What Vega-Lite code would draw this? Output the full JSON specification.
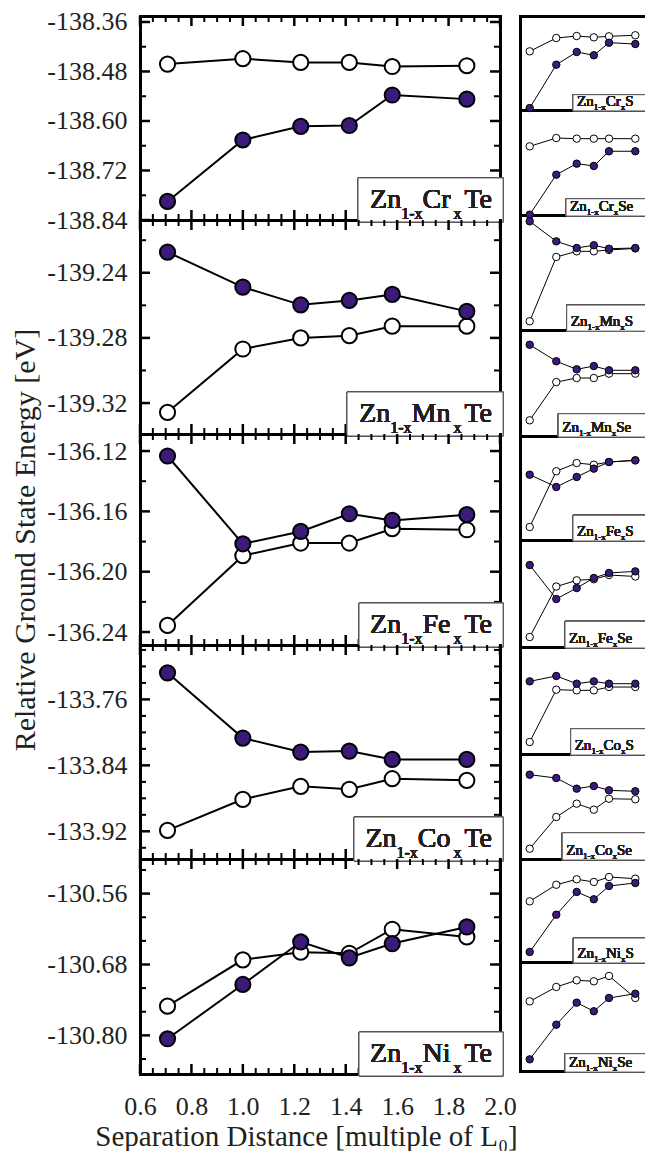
{
"$schema": "https://vega.github.io/schema/vega-lite/v6.json",
"background": "white",
"padding": {"left": 10, "top": 8, "right": 0, "bottom": 0},
"spacing": 2,
"bounds": "full",
"config": {
  "font": "Liberation Serif",
  "locale": {"number": {"decimal": ".", "thousands": ",", "grouping": [3], "currency": ["$", ""], "minus": "-"}},
  "view": {"stroke": null},
  "text": {"font": "Liberation Serif", "fontWeight": 400},
  "axis": {"grid": false, "domainColor": "black", "domainWidth": 3, "domainCap": "square", "labelFont": "Liberation Serif", "labelFontWeight": 400, "labelFontSize": 26, "labelColor": "#231f20", "labelOverlap": false, "labelFlush": false, "titleFont": "Liberation Serif", "titleFontWeight": 400, "titleColor": "#231f20", "titleFontSize": 29}
},
"datasets": {
  "xMaj": [{"t":0.6},{"t":0.8},{"t":1.0},{"t":1.2},{"t":1.4},{"t":1.6},{"t":1.8},{"t":2.0}],
  "xMin": [{"t":0.65},{"t":0.7},{"t":0.75},{"t":0.85},{"t":0.9},{"t":0.95},{"t":1.05},{"t":1.1},{"t":1.15},{"t":1.25},{"t":1.3},{"t":1.35},{"t":1.45},{"t":1.5},{"t":1.55},{"t":1.65},{"t":1.7},{"t":1.75},{"t":1.85},{"t":1.9},{"t":1.95}],
  "yMajCr": [{"t":-138.36},{"t":-138.48},{"t":-138.6},{"t":-138.72},{"t":-138.84}],
  "yMinCr": [{"t":-138.42},{"t":-138.54},{"t":-138.66},{"t":-138.78}],
  "yMajMn": [{"t":-139.24},{"t":-139.28},{"t":-139.32}],
  "yMinMn": [{"t":-139.22},{"t":-139.26},{"t":-139.3}],
  "yMajFe": [{"t":-136.12},{"t":-136.16},{"t":-136.2},{"t":-136.24}],
  "yMinFe": [{"t":-136.14},{"t":-136.18},{"t":-136.22}],
  "yMajCo": [{"t":-133.76},{"t":-133.84},{"t":-133.92}],
  "yMinCo": [{"t":-133.7},{"t":-133.72},{"t":-133.74},{"t":-133.78},{"t":-133.8},{"t":-133.82},{"t":-133.86},{"t":-133.88},{"t":-133.9},{"t":-133.94}],
  "yMajNi": [{"t":-130.56},{"t":-130.68},{"t":-130.8}],
  "yMinNi": [{"t":-130.52},{"t":-130.6},{"t":-130.64},{"t":-130.72},{"t":-130.76},{"t":-130.84}],
  "CrTe": [
    {"d":0.707,"E":-138.462,"state":"AFM"},{"d":1.0,"E":-138.449,"state":"AFM"},{"d":1.225,"E":-138.458,"state":"AFM"},{"d":1.414,"E":-138.458,"state":"AFM"},{"d":1.581,"E":-138.468,"state":"AFM"},{"d":1.871,"E":-138.466,"state":"AFM"},
    {"d":0.707,"E":-138.795,"state":"FM"},{"d":1.0,"E":-138.646,"state":"FM"},{"d":1.225,"E":-138.613,"state":"FM"},{"d":1.414,"E":-138.611,"state":"FM"},{"d":1.581,"E":-138.537,"state":"FM"},{"d":1.871,"E":-138.547,"state":"FM"}],
  "MnTe": [
    {"d":0.707,"E":-139.3257,"state":"AFM"},{"d":1.0,"E":-139.2868,"state":"AFM"},{"d":1.225,"E":-139.28,"state":"AFM"},{"d":1.414,"E":-139.2786,"state":"AFM"},{"d":1.581,"E":-139.2728,"state":"AFM"},{"d":1.871,"E":-139.2728,"state":"AFM"},
    {"d":0.707,"E":-139.2273,"state":"FM"},{"d":1.0,"E":-139.2488,"state":"FM"},{"d":1.225,"E":-139.2597,"state":"FM"},{"d":1.414,"E":-139.257,"state":"FM"},{"d":1.581,"E":-139.2533,"state":"FM"},{"d":1.871,"E":-139.2637,"state":"FM"}],
  "FeTe": [
    {"d":0.707,"E":-136.2356,"state":"AFM"},{"d":1.0,"E":-136.1894,"state":"AFM"},{"d":1.225,"E":-136.181,"state":"AFM"},{"d":1.414,"E":-136.181,"state":"AFM"},{"d":1.581,"E":-136.1715,"state":"AFM"},{"d":1.871,"E":-136.1722,"state":"AFM"},
    {"d":0.707,"E":-136.1233,"state":"FM"},{"d":1.0,"E":-136.1815,"state":"FM"},{"d":1.225,"E":-136.1733,"state":"FM"},{"d":1.414,"E":-136.1616,"state":"FM"},{"d":1.581,"E":-136.166,"state":"FM"},{"d":1.871,"E":-136.1622,"state":"FM"}],
  "CoTe": [
    {"d":0.707,"E":-133.9188,"state":"AFM"},{"d":1.0,"E":-133.8812,"state":"AFM"},{"d":1.225,"E":-133.8655,"state":"AFM"},{"d":1.414,"E":-133.8691,"state":"AFM"},{"d":1.581,"E":-133.8562,"state":"AFM"},{"d":1.871,"E":-133.8582,"state":"AFM"},
    {"d":0.707,"E":-133.7278,"state":"FM"},{"d":1.0,"E":-133.8069,"state":"FM"},{"d":1.225,"E":-133.8239,"state":"FM"},{"d":1.414,"E":-133.8227,"state":"FM"},{"d":1.581,"E":-133.8328,"state":"FM"},{"d":1.871,"E":-133.8328,"state":"FM"}],
  "NiTe": [
    {"d":0.707,"E":-130.7505,"state":"AFM"},{"d":1.0,"E":-130.6721,"state":"AFM"},{"d":1.225,"E":-130.6592,"state":"AFM"},{"d":1.414,"E":-130.661,"state":"AFM"},{"d":1.581,"E":-130.6203,"state":"AFM"},{"d":1.871,"E":-130.6333,"state":"AFM"},
    {"d":0.707,"E":-130.8057,"state":"FM"},{"d":1.0,"E":-130.7138,"state":"FM"},{"d":1.225,"E":-130.6416,"state":"FM"},{"d":1.414,"E":-130.6687,"state":"FM"},{"d":1.581,"E":-130.6446,"state":"FM"},{"d":1.871,"E":-130.6164,"state":"FM"}],
  "CrS": [
    {"d":0.707,"E":62.4,"state":"AFM"},{"d":1.0,"E":76.6,"state":"AFM"},{"d":1.225,"E":78.7,"state":"AFM"},{"d":1.414,"E":77.3,"state":"AFM"},{"d":1.581,"E":78.4,"state":"AFM"},{"d":1.871,"E":79.5,"state":"AFM"},
    {"d":0.707,"E":2.1,"state":"FM"},{"d":1.0,"E":48.2,"state":"FM"},{"d":1.225,"E":61.7,"state":"FM"},{"d":1.414,"E":58.2,"state":"FM"},{"d":1.581,"E":71.6,"state":"FM"},{"d":1.871,"E":70.2,"state":"FM"}],
  "CrSe": [
    {"d":0.707,"E":65.4,"state":"AFM"},{"d":1.0,"E":73.3,"state":"AFM"},{"d":1.225,"E":72.7,"state":"AFM"},{"d":1.414,"E":72.7,"state":"AFM"},{"d":1.581,"E":72.7,"state":"AFM"},{"d":1.871,"E":72.7,"state":"AFM"},
    {"d":0.707,"E":0.3,"state":"FM"},{"d":1.0,"E":38.4,"state":"FM"},{"d":1.225,"E":48.9,"state":"FM"},{"d":1.414,"E":46.7,"state":"FM"},{"d":1.581,"E":60.7,"state":"FM"},{"d":1.871,"E":60.7,"state":"FM"}],
  "MnS": [
    {"d":0.707,"E":7.6,"state":"AFM"},{"d":1.0,"E":63.5,"state":"AFM"},{"d":1.225,"E":68.4,"state":"AFM"},{"d":1.414,"E":68.4,"state":"AFM"},{"d":1.581,"E":69.6,"state":"AFM"},{"d":1.871,"E":70.9,"state":"AFM"},
    {"d":0.707,"E":94.5,"state":"FM"},{"d":1.0,"E":77.1,"state":"FM"},{"d":1.225,"E":71.3,"state":"FM"},{"d":1.414,"E":73.7,"state":"FM"},{"d":1.581,"E":70.7,"state":"FM"},{"d":1.871,"E":71.3,"state":"FM"}],
  "MnSe": [
    {"d":0.707,"E":14.8,"state":"AFM"},{"d":1.0,"E":50.9,"state":"AFM"},{"d":1.225,"E":54.7,"state":"AFM"},{"d":1.414,"E":54.7,"state":"AFM"},{"d":1.581,"E":58.8,"state":"AFM"},{"d":1.871,"E":58.8,"state":"AFM"},
    {"d":0.707,"E":86.1,"state":"FM"},{"d":1.0,"E":70.5,"state":"FM"},{"d":1.225,"E":62.9,"state":"FM"},{"d":1.414,"E":66.0,"state":"FM"},{"d":1.581,"E":62.0,"state":"FM"},{"d":1.871,"E":62.0,"state":"FM"}],
  "FeS": [
    {"d":0.707,"E":12.5,"state":"AFM"},{"d":1.0,"E":66.1,"state":"AFM"},{"d":1.225,"E":74.0,"state":"AFM"},{"d":1.414,"E":72.4,"state":"AFM"},{"d":1.581,"E":75.0,"state":"AFM"},{"d":1.871,"E":76.6,"state":"AFM"},
    {"d":0.707,"E":62.8,"state":"FM"},{"d":1.0,"E":51.0,"state":"FM"},{"d":1.225,"E":60.6,"state":"FM"},{"d":1.414,"E":68.6,"state":"FM"},{"d":1.581,"E":75.0,"state":"FM"},{"d":1.871,"E":76.6,"state":"FM"}],
  "FeSe": [
    {"d":0.707,"E":9.3,"state":"AFM"},{"d":1.0,"E":56.5,"state":"AFM"},{"d":1.225,"E":62.3,"state":"AFM"},{"d":1.414,"E":63.3,"state":"AFM"},{"d":1.581,"E":67.3,"state":"AFM"},{"d":1.871,"E":65.9,"state":"AFM"},
    {"d":0.707,"E":76.6,"state":"FM"},{"d":1.0,"E":44.9,"state":"FM"},{"d":1.225,"E":55.1,"state":"FM"},{"d":1.414,"E":64.5,"state":"FM"},{"d":1.581,"E":69.2,"state":"FM"},{"d":1.871,"E":70.7,"state":"FM"}],
  "CoS": [
    {"d":0.707,"E":11.2,"state":"AFM"},{"d":1.0,"E":60.1,"state":"AFM"},{"d":1.225,"E":59.5,"state":"AFM"},{"d":1.414,"E":59.5,"state":"AFM"},{"d":1.581,"E":62.6,"state":"AFM"},{"d":1.871,"E":62.6,"state":"AFM"},
    {"d":0.707,"E":67.9,"state":"FM"},{"d":1.0,"E":72.9,"state":"FM"},{"d":1.225,"E":65.7,"state":"FM"},{"d":1.414,"E":67.9,"state":"FM"},{"d":1.581,"E":65.7,"state":"FM"},{"d":1.871,"E":65.7,"state":"FM"}],
  "CoSe": [
    {"d":0.707,"E":9.8,"state":"AFM"},{"d":1.0,"E":40.0,"state":"AFM"},{"d":1.225,"E":52.7,"state":"AFM"},{"d":1.414,"E":47.0,"state":"AFM"},{"d":1.581,"E":57.4,"state":"AFM"},{"d":1.871,"E":56.9,"state":"AFM"},
    {"d":0.707,"E":80.3,"state":"FM"},{"d":1.0,"E":77.1,"state":"FM"},{"d":1.225,"E":67.0,"state":"FM"},{"d":1.414,"E":69.5,"state":"FM"},{"d":1.581,"E":65.4,"state":"FM"},{"d":1.871,"E":64.5,"state":"FM"}],
  "NiS": [
    {"d":0.707,"E":58.9,"state":"AFM"},{"d":1.0,"E":75.0,"state":"AFM"},{"d":1.225,"E":80.3,"state":"AFM"},{"d":1.414,"E":77.7,"state":"AFM"},{"d":1.581,"E":82.5,"state":"AFM"},{"d":1.871,"E":80.9,"state":"AFM"},
    {"d":0.707,"E":9.7,"state":"FM"},{"d":1.0,"E":45.9,"state":"FM"},{"d":1.225,"E":68.0,"state":"FM"},{"d":1.414,"E":60.9,"state":"FM"},{"d":1.581,"E":73.8,"state":"FM"},{"d":1.871,"E":76.7,"state":"FM"}],
  "NiSe": [
    {"d":0.707,"E":63.9,"state":"AFM"},{"d":1.0,"E":77.1,"state":"AFM"},{"d":1.225,"E":83.2,"state":"AFM"},{"d":1.414,"E":82.3,"state":"AFM"},{"d":1.581,"E":87.2,"state":"AFM"},{"d":1.871,"E":67.0,"state":"AFM"},
    {"d":0.707,"E":10.7,"state":"FM"},{"d":1.0,"E":42.5,"state":"FM"},{"d":1.225,"E":62.7,"state":"FM"},{"d":1.414,"E":54.8,"state":"FM"},{"d":1.581,"E":67.0,"state":"FM"},{"d":1.871,"E":70.9,"state":"FM"}]
},
"hconcat": [
{"vconcat": [
{"width":360,"height":204,"data":{"name":"CrTe"},
 "layer":[
  {"mark":{"type":"line","color":"black","strokeWidth":2},
   "encoding":{
    "x":{"field":"d","type":"quantitative","scale":{"domain":[0.6,2.0],"nice":false,"zero":false},"axis":{"orient":"bottom","ticks":false,"labels":false,"domain":true,"title":null}},
    "y":{"field":"E","type":"quantitative","scale":{"domain":[-138.84,-138.3455],"nice":false,"zero":false},"axis":{"orient":"left","values":[-138.36,-138.48,-138.6,-138.72,-138.84],"format":".2f","ticks":false,"labelPadding":13,"domain":true,"title":null}},
    "detail":{"field":"state","type":"nominal"}}},
  {"mark":{"type":"point","shape":"circle","filled":true,"size":230,"stroke":"black","strokeWidth":2,"opacity":1},
   "encoding":{
    "x":{"field":"d","type":"quantitative","axis":null},
    "y":{"field":"E","type":"quantitative","axis":null},
    "fill":{"field":"state","type":"nominal","scale":{"domain":["FM","AFM"],"range":["#3c1a7a","#ffffff"]},"legend":null}}},
  {"mark":{"type":"point","opacity":0},
   "encoding":{
    "x":{"field":"d","type":"quantitative","axis":{"orient":"top","ticks":false,"labels":false,"domain":true,"title":null}},
    "y":{"field":"E","type":"quantitative","axis":{"orient":"right","ticks":false,"labels":false,"domain":true,"title":null}}}},
  {"data":{"name":"xMaj"},"mark":{"type":"point","shape":"M0,0L0,-2","size":100,"filled":false,"stroke":"black","strokeWidth":2.5,"opacity":1},"encoding":{"x":{"field":"t","type":"quantitative","axis":null},"y":{"datum":-138.84,"type":"quantitative","axis":null}}},
  {"data":{"name":"xMin"},"mark":{"type":"point","shape":"M0,0L0,-2","size":36,"filled":false,"stroke":"black","strokeWidth":2,"opacity":1},"encoding":{"x":{"field":"t","type":"quantitative","axis":null},"y":{"datum":-138.84,"type":"quantitative","axis":null}}},
  {"data":{"name":"xMaj"},"mark":{"type":"point","shape":"M0,0L0,2","size":100,"filled":false,"stroke":"black","strokeWidth":2.5,"opacity":1},"encoding":{"x":{"field":"t","type":"quantitative","axis":null},"y":{"datum":-138.3455,"type":"quantitative","axis":null}}},
  {"data":{"name":"xMin"},"mark":{"type":"point","shape":"M0,0L0,2","size":36,"filled":false,"stroke":"black","strokeWidth":2,"opacity":1},"encoding":{"x":{"field":"t","type":"quantitative","axis":null},"y":{"datum":-138.3455,"type":"quantitative","axis":null}}},
  {"data":{"name":"yMajCr"},"mark":{"type":"point","shape":"M0,0L2,0","size":100,"filled":false,"stroke":"black","strokeWidth":2.5,"opacity":1},"encoding":{"y":{"field":"t","type":"quantitative","axis":null},"x":{"datum":0.6,"type":"quantitative","axis":null}}},
  {"data":{"name":"yMinCr"},"mark":{"type":"point","shape":"M0,0L2,0","size":36,"filled":false,"stroke":"black","strokeWidth":2,"opacity":1},"encoding":{"y":{"field":"t","type":"quantitative","axis":null},"x":{"datum":0.6,"type":"quantitative","axis":null}}},
  {"data":{"name":"yMajCr"},"mark":{"type":"point","shape":"M0,0L-2,0","size":100,"filled":false,"stroke":"black","strokeWidth":2.5,"opacity":1},"encoding":{"y":{"field":"t","type":"quantitative","axis":null},"x":{"datum":2.0,"type":"quantitative","axis":null}}},
  {"data":{"name":"yMinCr"},"mark":{"type":"point","shape":"M0,0L-2,0","size":36,"filled":false,"stroke":"black","strokeWidth":2,"opacity":1},"encoding":{"y":{"field":"t","type":"quantitative","axis":null},"x":{"datum":2.0,"type":"quantitative","axis":null}}},
  {"mark":{"type":"rect","fill":"white","stroke":"#555555","strokeWidth":1},
   "encoding":{"x":{"datum":1.4478,"type":"quantitative","axis":null},"x2":{"datum":2.012},"y":{"datum":-138.738,"type":"quantitative","axis":null},"y2":{"datum":-138.8448}}},
  {"mark":{"type":"text","text":"Zn","font":"Liberation Serif","align":"right","baseline":"alphabetic","dx":-98.8,"dy":-12,"fontSize":28,"color":"#231f20"},"encoding":{"x":{"datum":2.0,"type":"quantitative","axis":null},"y":{"datum":-138.84,"type":"quantitative","axis":null}}},
  {"mark":{"type":"text","text":"1-x","font":"Liberation Serif","align":"right","baseline":"alphabetic","dx":-77.5,"dy":-1,"fontSize":16,"color":"#231f20"},"encoding":{"x":{"datum":2.0,"type":"quantitative","axis":null},"y":{"datum":-138.84,"type":"quantitative","axis":null}}},
  {"mark":{"type":"text","text":"Cr","font":"Liberation Serif","align":"right","baseline":"alphabetic","dx":-49.5,"dy":-12,"fontSize":28,"color":"#231f20"},"encoding":{"x":{"datum":2.0,"type":"quantitative","axis":null},"y":{"datum":-138.84,"type":"quantitative","axis":null}}},
  {"mark":{"type":"text","text":"x","font":"Liberation Serif","align":"right","baseline":"alphabetic","dx":-38.5,"dy":-1,"fontSize":16,"color":"#231f20"},"encoding":{"x":{"datum":2.0,"type":"quantitative","axis":null},"y":{"datum":-138.84,"type":"quantitative","axis":null}}},
  {"mark":{"type":"text","text":"Te","font":"Liberation Serif","align":"right","baseline":"alphabetic","dx":-8,"dy":-12,"fontSize":28,"color":"#231f20"},"encoding":{"x":{"datum":2.0,"type":"quantitative","axis":null},"y":{"datum":-138.84,"type":"quantitative","axis":null}}}
 ],
 "resolve":{"axis":{"x":"independent","y":"independent"}}},
{"width":360,"height":214,"data":{"name":"MnTe"},
 "layer":[
  {"mark":{"type":"line","color":"black","strokeWidth":2},
   "encoding":{
    "x":{"field":"d","type":"quantitative","scale":{"domain":[0.6,2.0],"nice":false,"zero":false},"axis":{"orient":"bottom","ticks":false,"labels":false,"domain":true,"title":null}},
    "y":{"field":"E","type":"quantitative","scale":{"domain":[-139.339,-139.2076],"nice":false,"zero":false},"axis":{"orient":"left","values":[-139.24,-139.28,-139.32],"format":".2f","ticks":false,"labelPadding":13,"domain":true,"title":null}},
    "detail":{"field":"state","type":"nominal"}}},
  {"mark":{"type":"point","shape":"circle","filled":true,"size":230,"stroke":"black","strokeWidth":2,"opacity":1},
   "encoding":{
    "x":{"field":"d","type":"quantitative","axis":null},
    "y":{"field":"E","type":"quantitative","axis":null},
    "fill":{"field":"state","type":"nominal","scale":{"domain":["FM","AFM"],"range":["#3c1a7a","#ffffff"]},"legend":null}}},
  {"mark":{"type":"point","opacity":0},
   "encoding":{
    "x":{"field":"d","type":"quantitative","axis":null},
    "y":{"field":"E","type":"quantitative","axis":{"orient":"right","ticks":false,"labels":false,"domain":true,"title":null}}}},
  {"data":{"name":"xMaj"},"mark":{"type":"point","shape":"M0,0L0,-2","size":100,"filled":false,"stroke":"black","strokeWidth":2.5,"opacity":1},"encoding":{"x":{"field":"t","type":"quantitative","axis":null},"y":{"datum":-139.339,"type":"quantitative","axis":null}}},
  {"data":{"name":"xMin"},"mark":{"type":"point","shape":"M0,0L0,-2","size":36,"filled":false,"stroke":"black","strokeWidth":2,"opacity":1},"encoding":{"x":{"field":"t","type":"quantitative","axis":null},"y":{"datum":-139.339,"type":"quantitative","axis":null}}},
  {"data":{"name":"xMaj"},"mark":{"type":"point","shape":"M0,0L0,2","size":100,"filled":false,"stroke":"black","strokeWidth":2.5,"opacity":1},"encoding":{"x":{"field":"t","type":"quantitative","axis":null},"y":{"datum":-139.2076,"type":"quantitative","axis":null}}},
  {"data":{"name":"xMin"},"mark":{"type":"point","shape":"M0,0L0,2","size":36,"filled":false,"stroke":"black","strokeWidth":2,"opacity":1},"encoding":{"x":{"field":"t","type":"quantitative","axis":null},"y":{"datum":-139.2076,"type":"quantitative","axis":null}}},
  {"data":{"name":"yMajMn"},"mark":{"type":"point","shape":"M0,0L2,0","size":100,"filled":false,"stroke":"black","strokeWidth":2.5,"opacity":1},"encoding":{"y":{"field":"t","type":"quantitative","axis":null},"x":{"datum":0.6,"type":"quantitative","axis":null}}},
  {"data":{"name":"yMinMn"},"mark":{"type":"point","shape":"M0,0L2,0","size":36,"filled":false,"stroke":"black","strokeWidth":2,"opacity":1},"encoding":{"y":{"field":"t","type":"quantitative","axis":null},"x":{"datum":0.6,"type":"quantitative","axis":null}}},
  {"data":{"name":"yMajMn"},"mark":{"type":"point","shape":"M0,0L-2,0","size":100,"filled":false,"stroke":"black","strokeWidth":2.5,"opacity":1},"encoding":{"y":{"field":"t","type":"quantitative","axis":null},"x":{"datum":2.0,"type":"quantitative","axis":null}}},
  {"data":{"name":"yMinMn"},"mark":{"type":"point","shape":"M0,0L-2,0","size":36,"filled":false,"stroke":"black","strokeWidth":2,"opacity":1},"encoding":{"y":{"field":"t","type":"quantitative","axis":null},"x":{"datum":2.0,"type":"quantitative","axis":null}}},
  {"mark":{"type":"rect","fill":"white","stroke":"#555555","strokeWidth":1},
   "encoding":{"x":{"datum":1.405,"type":"quantitative","axis":null},"x2":{"datum":2.012},"y":{"datum":-139.3132,"type":"quantitative","axis":null},"y2":{"datum":-139.3402}}},
  {"mark":{"type":"text","text":"Zn","font":"Liberation Serif","align":"right","baseline":"alphabetic","dx":-109.7,"dy":-12,"fontSize":28,"color":"#231f20"},"encoding":{"x":{"datum":2.0,"type":"quantitative","axis":null},"y":{"datum":-139.339,"type":"quantitative","axis":null}}},
  {"mark":{"type":"text","text":"1-x","font":"Liberation Serif","align":"right","baseline":"alphabetic","dx":-88.4,"dy":-1,"fontSize":16,"color":"#231f20"},"encoding":{"x":{"datum":2.0,"type":"quantitative","axis":null},"y":{"datum":-139.339,"type":"quantitative","axis":null}}},
  {"mark":{"type":"text","text":"Mn","font":"Liberation Serif","align":"right","baseline":"alphabetic","dx":-49.5,"dy":-12,"fontSize":28,"color":"#231f20"},"encoding":{"x":{"datum":2.0,"type":"quantitative","axis":null},"y":{"datum":-139.339,"type":"quantitative","axis":null}}},
  {"mark":{"type":"text","text":"x","font":"Liberation Serif","align":"right","baseline":"alphabetic","dx":-38.5,"dy":-1,"fontSize":16,"color":"#231f20"},"encoding":{"x":{"datum":2.0,"type":"quantitative","axis":null},"y":{"datum":-139.339,"type":"quantitative","axis":null}}},
  {"mark":{"type":"text","text":"Te","font":"Liberation Serif","align":"right","baseline":"alphabetic","dx":-8,"dy":-12,"fontSize":28,"color":"#231f20"},"encoding":{"x":{"datum":2.0,"type":"quantitative","axis":null},"y":{"datum":-139.339,"type":"quantitative","axis":null}}}
 ],
 "resolve":{"axis":{"x":"independent","y":"independent"}}},
{"width":360,"height":211,"data":{"name":"FeTe"},
 "layer":[
  {"mark":{"type":"line","color":"black","strokeWidth":2},
   "encoding":{
    "x":{"field":"d","type":"quantitative","scale":{"domain":[0.6,2.0],"nice":false,"zero":false},"axis":{"orient":"bottom","ticks":false,"labels":false,"domain":true,"title":null}},
    "y":{"field":"E","type":"quantitative","scale":{"domain":[-136.2486,-136.1087],"nice":false,"zero":false},"axis":{"orient":"left","values":[-136.12,-136.16,-136.2,-136.24],"format":".2f","ticks":false,"labelPadding":13,"domain":true,"title":"Relative Ground State Energy [eV]","titleFontSize":30,"titlePadding":6.5}},
    "detail":{"field":"state","type":"nominal"}}},
  {"mark":{"type":"point","shape":"circle","filled":true,"size":230,"stroke":"black","strokeWidth":2,"opacity":1},
   "encoding":{
    "x":{"field":"d","type":"quantitative","axis":null},
    "y":{"field":"E","type":"quantitative","axis":null},
    "fill":{"field":"state","type":"nominal","scale":{"domain":["FM","AFM"],"range":["#3c1a7a","#ffffff"]},"legend":null}}},
  {"mark":{"type":"point","opacity":0},
   "encoding":{
    "x":{"field":"d","type":"quantitative","axis":null},
    "y":{"field":"E","type":"quantitative","axis":{"orient":"right","ticks":false,"labels":false,"domain":true,"title":null}}}},
  {"data":{"name":"xMaj"},"mark":{"type":"point","shape":"M0,0L0,-2","size":100,"filled":false,"stroke":"black","strokeWidth":2.5,"opacity":1},"encoding":{"x":{"field":"t","type":"quantitative","axis":null},"y":{"datum":-136.2486,"type":"quantitative","axis":null}}},
  {"data":{"name":"xMin"},"mark":{"type":"point","shape":"M0,0L0,-2","size":36,"filled":false,"stroke":"black","strokeWidth":2,"opacity":1},"encoding":{"x":{"field":"t","type":"quantitative","axis":null},"y":{"datum":-136.2486,"type":"quantitative","axis":null}}},
  {"data":{"name":"xMaj"},"mark":{"type":"point","shape":"M0,0L0,2","size":100,"filled":false,"stroke":"black","strokeWidth":2.5,"opacity":1},"encoding":{"x":{"field":"t","type":"quantitative","axis":null},"y":{"datum":-136.1087,"type":"quantitative","axis":null}}},
  {"data":{"name":"xMin"},"mark":{"type":"point","shape":"M0,0L0,2","size":36,"filled":false,"stroke":"black","strokeWidth":2,"opacity":1},"encoding":{"x":{"field":"t","type":"quantitative","axis":null},"y":{"datum":-136.1087,"type":"quantitative","axis":null}}},
  {"data":{"name":"yMajFe"},"mark":{"type":"point","shape":"M0,0L2,0","size":100,"filled":false,"stroke":"black","strokeWidth":2.5,"opacity":1},"encoding":{"y":{"field":"t","type":"quantitative","axis":null},"x":{"datum":0.6,"type":"quantitative","axis":null}}},
  {"data":{"name":"yMinFe"},"mark":{"type":"point","shape":"M0,0L2,0","size":36,"filled":false,"stroke":"black","strokeWidth":2,"opacity":1},"encoding":{"y":{"field":"t","type":"quantitative","axis":null},"x":{"datum":0.6,"type":"quantitative","axis":null}}},
  {"data":{"name":"yMajFe"},"mark":{"type":"point","shape":"M0,0L-2,0","size":100,"filled":false,"stroke":"black","strokeWidth":2.5,"opacity":1},"encoding":{"y":{"field":"t","type":"quantitative","axis":null},"x":{"datum":2.0,"type":"quantitative","axis":null}}},
  {"data":{"name":"yMinFe"},"mark":{"type":"point","shape":"M0,0L-2,0","size":36,"filled":false,"stroke":"black","strokeWidth":2,"opacity":1},"encoding":{"y":{"field":"t","type":"quantitative","axis":null},"x":{"datum":2.0,"type":"quantitative","axis":null}}},
  {"mark":{"type":"rect","fill":"white","stroke":"#555555","strokeWidth":1},
   "encoding":{"x":{"datum":1.4517,"type":"quantitative","axis":null},"x2":{"datum":2.012},"y":{"datum":-136.2208,"type":"quantitative","axis":null},"y2":{"datum":-136.2499}}},
  {"mark":{"type":"text","text":"Zn","font":"Liberation Serif","align":"right","baseline":"alphabetic","dx":-98.8,"dy":-12,"fontSize":28,"color":"#231f20"},"encoding":{"x":{"datum":2.0,"type":"quantitative","axis":null},"y":{"datum":-136.2486,"type":"quantitative","axis":null}}},
  {"mark":{"type":"text","text":"1-x","font":"Liberation Serif","align":"right","baseline":"alphabetic","dx":-77.5,"dy":-1,"fontSize":16,"color":"#231f20"},"encoding":{"x":{"datum":2.0,"type":"quantitative","axis":null},"y":{"datum":-136.2486,"type":"quantitative","axis":null}}},
  {"mark":{"type":"text","text":"Fe","font":"Liberation Serif","align":"right","baseline":"alphabetic","dx":-49.5,"dy":-12,"fontSize":28,"color":"#231f20"},"encoding":{"x":{"datum":2.0,"type":"quantitative","axis":null},"y":{"datum":-136.2486,"type":"quantitative","axis":null}}},
  {"mark":{"type":"text","text":"x","font":"Liberation Serif","align":"right","baseline":"alphabetic","dx":-38.5,"dy":-1,"fontSize":16,"color":"#231f20"},"encoding":{"x":{"datum":2.0,"type":"quantitative","axis":null},"y":{"datum":-136.2486,"type":"quantitative","axis":null}}},
  {"mark":{"type":"text","text":"Te","font":"Liberation Serif","align":"right","baseline":"alphabetic","dx":-8,"dy":-12,"fontSize":28,"color":"#231f20"},"encoding":{"x":{"datum":2.0,"type":"quantitative","axis":null},"y":{"datum":-136.2486,"type":"quantitative","axis":null}}}
 ],
 "resolve":{"axis":{"x":"independent","y":"independent"}}},
{"width":360,"height":214,"data":{"name":"CoTe"},
 "layer":[
  {"mark":{"type":"line","color":"black","strokeWidth":2},
   "encoding":{
    "x":{"field":"d","type":"quantitative","scale":{"domain":[0.6,2.0],"nice":false,"zero":false},"axis":{"orient":"bottom","ticks":false,"labels":false,"domain":true,"title":null}},
    "y":{"field":"E","type":"quantitative","scale":{"domain":[-133.9536,-133.694],"nice":false,"zero":false},"axis":{"orient":"left","values":[-133.76,-133.84,-133.92],"format":".2f","ticks":false,"labelPadding":13,"domain":true,"title":null}},
    "detail":{"field":"state","type":"nominal"}}},
  {"mark":{"type":"point","shape":"circle","filled":true,"size":230,"stroke":"black","strokeWidth":2,"opacity":1},
   "encoding":{
    "x":{"field":"d","type":"quantitative","axis":null},
    "y":{"field":"E","type":"quantitative","axis":null},
    "fill":{"field":"state","type":"nominal","scale":{"domain":["FM","AFM"],"range":["#3c1a7a","#ffffff"]},"legend":null}}},
  {"mark":{"type":"point","opacity":0},
   "encoding":{
    "x":{"field":"d","type":"quantitative","axis":null},
    "y":{"field":"E","type":"quantitative","axis":{"orient":"right","ticks":false,"labels":false,"domain":true,"title":null}}}},
  {"data":{"name":"xMaj"},"mark":{"type":"point","shape":"M0,0L0,-2","size":100,"filled":false,"stroke":"black","strokeWidth":2.5,"opacity":1},"encoding":{"x":{"field":"t","type":"quantitative","axis":null},"y":{"datum":-133.9536,"type":"quantitative","axis":null}}},
  {"data":{"name":"xMin"},"mark":{"type":"point","shape":"M0,0L0,-2","size":36,"filled":false,"stroke":"black","strokeWidth":2,"opacity":1},"encoding":{"x":{"field":"t","type":"quantitative","axis":null},"y":{"datum":-133.9536,"type":"quantitative","axis":null}}},
  {"data":{"name":"xMaj"},"mark":{"type":"point","shape":"M0,0L0,2","size":100,"filled":false,"stroke":"black","strokeWidth":2.5,"opacity":1},"encoding":{"x":{"field":"t","type":"quantitative","axis":null},"y":{"datum":-133.694,"type":"quantitative","axis":null}}},
  {"data":{"name":"xMin"},"mark":{"type":"point","shape":"M0,0L0,2","size":36,"filled":false,"stroke":"black","strokeWidth":2,"opacity":1},"encoding":{"x":{"field":"t","type":"quantitative","axis":null},"y":{"datum":-133.694,"type":"quantitative","axis":null}}},
  {"data":{"name":"yMajCo"},"mark":{"type":"point","shape":"M0,0L2,0","size":100,"filled":false,"stroke":"black","strokeWidth":2.5,"opacity":1},"encoding":{"y":{"field":"t","type":"quantitative","axis":null},"x":{"datum":0.6,"type":"quantitative","axis":null}}},
  {"data":{"name":"yMinCo"},"mark":{"type":"point","shape":"M0,0L2,0","size":36,"filled":false,"stroke":"black","strokeWidth":2,"opacity":1},"encoding":{"y":{"field":"t","type":"quantitative","axis":null},"x":{"datum":0.6,"type":"quantitative","axis":null}}},
  {"data":{"name":"yMajCo"},"mark":{"type":"point","shape":"M0,0L-2,0","size":100,"filled":false,"stroke":"black","strokeWidth":2.5,"opacity":1},"encoding":{"y":{"field":"t","type":"quantitative","axis":null},"x":{"datum":2.0,"type":"quantitative","axis":null}}},
  {"data":{"name":"yMinCo"},"mark":{"type":"point","shape":"M0,0L-2,0","size":36,"filled":false,"stroke":"black","strokeWidth":2,"opacity":1},"encoding":{"y":{"field":"t","type":"quantitative","axis":null},"x":{"datum":2.0,"type":"quantitative","axis":null}}},
  {"mark":{"type":"rect","fill":"white","stroke":"#555555","strokeWidth":1},
   "encoding":{"x":{"datum":1.4322,"type":"quantitative","axis":null},"x2":{"datum":2.012},"y":{"datum":-133.9027,"type":"quantitative","axis":null},"y2":{"datum":-133.956}}},
  {"mark":{"type":"text","text":"Zn","font":"Liberation Serif","align":"right","baseline":"alphabetic","dx":-103.5,"dy":-12,"fontSize":28,"color":"#231f20"},"encoding":{"x":{"datum":2.0,"type":"quantitative","axis":null},"y":{"datum":-133.9536,"type":"quantitative","axis":null}}},
  {"mark":{"type":"text","text":"1-x","font":"Liberation Serif","align":"right","baseline":"alphabetic","dx":-82.2,"dy":-1,"fontSize":16,"color":"#231f20"},"encoding":{"x":{"datum":2.0,"type":"quantitative","axis":null},"y":{"datum":-133.9536,"type":"quantitative","axis":null}}},
  {"mark":{"type":"text","text":"Co","font":"Liberation Serif","align":"right","baseline":"alphabetic","dx":-49.5,"dy":-12,"fontSize":28,"color":"#231f20"},"encoding":{"x":{"datum":2.0,"type":"quantitative","axis":null},"y":{"datum":-133.9536,"type":"quantitative","axis":null}}},
  {"mark":{"type":"text","text":"x","font":"Liberation Serif","align":"right","baseline":"alphabetic","dx":-38.5,"dy":-1,"fontSize":16,"color":"#231f20"},"encoding":{"x":{"datum":2.0,"type":"quantitative","axis":null},"y":{"datum":-133.9536,"type":"quantitative","axis":null}}},
  {"mark":{"type":"text","text":"Te","font":"Liberation Serif","align":"right","baseline":"alphabetic","dx":-8,"dy":-12,"fontSize":28,"color":"#231f20"},"encoding":{"x":{"datum":2.0,"type":"quantitative","axis":null},"y":{"datum":-133.9536,"type":"quantitative","axis":null}}}
 ],
 "resolve":{"axis":{"x":"independent","y":"independent"}}},
{"width":360,"height":215,"data":{"name":"NiTe"},
 "layer":[
  {"mark":{"type":"line","color":"black","strokeWidth":2},
   "encoding":{
    "x":{"field":"d","type":"quantitative","scale":{"domain":[0.6,2.0],"nice":false,"zero":false},"axis":{"orient":"bottom","values":[0.6,0.8,1.0,1.2,1.4,1.6,1.8,2.0],"format":".1f","ticks":false,"labels":true,"labelPadding":19,"domain":true,"title":"Separation Distance [multiple of L₀]","titleX":166,"titlePadding":3}},
    "y":{"field":"E","type":"quantitative","scale":{"domain":[-130.8654,-130.5014],"nice":false,"zero":false},"axis":{"orient":"left","values":[-130.56,-130.68,-130.8],"format":".2f","ticks":false,"labelPadding":13,"domain":true,"title":null}},
    "detail":{"field":"state","type":"nominal"}}},
  {"mark":{"type":"point","shape":"circle","filled":true,"size":230,"stroke":"black","strokeWidth":2,"opacity":1},
   "encoding":{
    "x":{"field":"d","type":"quantitative","axis":null},
    "y":{"field":"E","type":"quantitative","axis":null},
    "fill":{"field":"state","type":"nominal","scale":{"domain":["FM","AFM"],"range":["#3c1a7a","#ffffff"]},"legend":null}}},
  {"mark":{"type":"point","opacity":0},
   "encoding":{
    "x":{"field":"d","type":"quantitative","axis":null},
    "y":{"field":"E","type":"quantitative","axis":{"orient":"right","ticks":false,"labels":false,"domain":true,"title":null}}}},
  {"data":{"name":"xMaj"},"mark":{"type":"point","shape":"M0,0L0,-2","size":100,"filled":false,"stroke":"black","strokeWidth":2.5,"opacity":1},"encoding":{"x":{"field":"t","type":"quantitative","axis":null},"y":{"datum":-130.8654,"type":"quantitative","axis":null}}},
  {"data":{"name":"xMin"},"mark":{"type":"point","shape":"M0,0L0,-2","size":36,"filled":false,"stroke":"black","strokeWidth":2,"opacity":1},"encoding":{"x":{"field":"t","type":"quantitative","axis":null},"y":{"datum":-130.8654,"type":"quantitative","axis":null}}},
  {"data":{"name":"xMaj"},"mark":{"type":"point","shape":"M0,0L0,2","size":100,"filled":false,"stroke":"black","strokeWidth":2.5,"opacity":1},"encoding":{"x":{"field":"t","type":"quantitative","axis":null},"y":{"datum":-130.5014,"type":"quantitative","axis":null}}},
  {"data":{"name":"xMin"},"mark":{"type":"point","shape":"M0,0L0,2","size":36,"filled":false,"stroke":"black","strokeWidth":2,"opacity":1},"encoding":{"x":{"field":"t","type":"quantitative","axis":null},"y":{"datum":-130.5014,"type":"quantitative","axis":null}}},
  {"data":{"name":"yMajNi"},"mark":{"type":"point","shape":"M0,0L2,0","size":100,"filled":false,"stroke":"black","strokeWidth":2.5,"opacity":1},"encoding":{"y":{"field":"t","type":"quantitative","axis":null},"x":{"datum":0.6,"type":"quantitative","axis":null}}},
  {"data":{"name":"yMinNi"},"mark":{"type":"point","shape":"M0,0L2,0","size":36,"filled":false,"stroke":"black","strokeWidth":2,"opacity":1},"encoding":{"y":{"field":"t","type":"quantitative","axis":null},"x":{"datum":0.6,"type":"quantitative","axis":null}}},
  {"data":{"name":"yMajNi"},"mark":{"type":"point","shape":"M0,0L-2,0","size":100,"filled":false,"stroke":"black","strokeWidth":2.5,"opacity":1},"encoding":{"y":{"field":"t","type":"quantitative","axis":null},"x":{"datum":2.0,"type":"quantitative","axis":null}}},
  {"data":{"name":"yMinNi"},"mark":{"type":"point","shape":"M0,0L-2,0","size":36,"filled":false,"stroke":"black","strokeWidth":2,"opacity":1},"encoding":{"y":{"field":"t","type":"quantitative","axis":null},"x":{"datum":2.0,"type":"quantitative","axis":null}}},
  {"mark":{"type":"rect","fill":"white","stroke":"#555555","strokeWidth":1},
   "encoding":{"x":{"datum":1.4517,"type":"quantitative","axis":null},"x2":{"datum":2.012},"y":{"datum":-130.7943,"type":"quantitative","axis":null},"y2":{"datum":-130.8688}}},
  {"mark":{"type":"text","text":"Zn","font":"Liberation Serif","align":"right","baseline":"alphabetic","dx":-98.8,"dy":-12,"fontSize":28,"color":"#231f20"},"encoding":{"x":{"datum":2.0,"type":"quantitative","axis":null},"y":{"datum":-130.8654,"type":"quantitative","axis":null}}},
  {"mark":{"type":"text","text":"1-x","font":"Liberation Serif","align":"right","baseline":"alphabetic","dx":-77.5,"dy":-1,"fontSize":16,"color":"#231f20"},"encoding":{"x":{"datum":2.0,"type":"quantitative","axis":null},"y":{"datum":-130.8654,"type":"quantitative","axis":null}}},
  {"mark":{"type":"text","text":"Ni","font":"Liberation Serif","align":"right","baseline":"alphabetic","dx":-49.5,"dy":-12,"fontSize":28,"color":"#231f20"},"encoding":{"x":{"datum":2.0,"type":"quantitative","axis":null},"y":{"datum":-130.8654,"type":"quantitative","axis":null}}},
  {"mark":{"type":"text","text":"x","font":"Liberation Serif","align":"right","baseline":"alphabetic","dx":-38.5,"dy":-1,"fontSize":16,"color":"#231f20"},"encoding":{"x":{"datum":2.0,"type":"quantitative","axis":null},"y":{"datum":-130.8654,"type":"quantitative","axis":null}}},
  {"mark":{"type":"text","text":"Te","font":"Liberation Serif","align":"right","baseline":"alphabetic","dx":-8,"dy":-12,"fontSize":28,"color":"#231f20"},"encoding":{"x":{"datum":2.0,"type":"quantitative","axis":null},"y":{"datum":-130.8654,"type":"quantitative","axis":null}}}
 ],
 "resolve":{"axis":{"x":"independent","y":"independent"}}}
], "spacing": 0, "bounds": "flush"},
{"vconcat": [
{"width":127,"height":94,"data":{"name":"CrS"},
 "layer":[
  {"mark":{"type":"line","color":"black","strokeWidth":1},"encoding":{"x":{"field":"d","type":"quantitative","scale":{"domain":[0.6,2.0],"nice":false,"zero":false},"axis":{"orient":"bottom","ticks":false,"labels":false,"domain":true,"title":null}},"y":{"field":"E","type":"quantitative","scale":{"domain":[0,100],"nice":false,"zero":false},"axis":{"orient":"left","ticks":false,"labels":false,"domain":true,"title":null}},"detail":{"field":"state","type":"nominal"}}},
  {"mark":{"type":"point","shape":"circle","filled":true,"size":55,"stroke":"black","strokeWidth":1,"opacity":1},"encoding":{"x":{"field":"d","type":"quantitative","axis":{"orient":"top","ticks":false,"labels":false,"domain":true,"title":null}},"y":{"field":"E","type":"quantitative","axis":null},"fill":{"field":"state","type":"nominal","legend":null}}},
  {"mark":{"type":"rect","fill":"white","stroke":"#555555","strokeWidth":1},"encoding":{"x":{"datum":1.184,"type":"quantitative","axis":null},"x2":{"datum":2.1},"y":{"datum":16.3,"type":"quantitative","axis":null},"y2":{"datum":-1}}},
  {"mark":{"type":"text","text":"Zn","font":"Liberation Serif","align":"left","baseline":"alphabetic","dx":4,"dy":-4,"fontSize":15,"color":"#231f20"},"encoding":{"x":{"datum":1.184,"type":"quantitative","axis":null},"y":{"datum":0,"type":"quantitative","axis":null}}},
  {"mark":{"type":"text","text":"1-x","font":"Liberation Serif","align":"left","baseline":"alphabetic","dx":20.7,"dy":0,"fontSize":9,"color":"#231f20"},"encoding":{"x":{"datum":1.184,"type":"quantitative","axis":null},"y":{"datum":0,"type":"quantitative","axis":null}}},
  {"mark":{"type":"text","text":"Cr","font":"Liberation Serif","align":"left","baseline":"alphabetic","dx":32.7,"dy":-4,"fontSize":15,"color":"#231f20"},"encoding":{"x":{"datum":1.184,"type":"quantitative","axis":null},"y":{"datum":0,"type":"quantitative","axis":null}}},
  {"mark":{"type":"text","text":"x","font":"Liberation Serif","align":"left","baseline":"alphabetic","dx":47.7,"dy":0,"fontSize":9,"color":"#231f20"},"encoding":{"x":{"datum":1.184,"type":"quantitative","axis":null},"y":{"datum":0,"type":"quantitative","axis":null}}},
  {"mark":{"type":"text","text":"S","font":"Liberation Serif","align":"left","baseline":"alphabetic","dx":52.2,"dy":-4,"fontSize":15,"color":"#231f20"},"encoding":{"x":{"datum":1.184,"type":"quantitative","axis":null},"y":{"datum":0,"type":"quantitative","axis":null}}}
 ],
 "resolve":{"axis":{"x":"independent","y":"independent"}}},
{"width":127,"height":105,"data":{"name":"CrSe"},
 "layer":[
  {"mark":{"type":"line","color":"black","strokeWidth":1},"encoding":{"x":{"field":"d","type":"quantitative","scale":{"domain":[0.6,2.0],"nice":false,"zero":false},"axis":{"orient":"bottom","ticks":false,"labels":false,"domain":true,"title":null}},"y":{"field":"E","type":"quantitative","scale":{"domain":[0,100],"nice":false,"zero":false},"axis":{"orient":"left","ticks":false,"labels":false,"domain":true,"title":null}},"detail":{"field":"state","type":"nominal"}}},
  {"mark":{"type":"point","shape":"circle","filled":true,"size":55,"stroke":"black","strokeWidth":1,"opacity":1},"encoding":{"x":{"field":"d","type":"quantitative","axis":null},"y":{"field":"E","type":"quantitative","axis":null},"fill":{"field":"state","type":"nominal","legend":null}}},
  {"mark":{"type":"rect","fill":"white","stroke":"#555555","strokeWidth":1},"encoding":{"x":{"datum":1.107,"type":"quantitative","axis":null},"x2":{"datum":2.1},"y":{"datum":15.5,"type":"quantitative","axis":null},"y2":{"datum":-1}}},
  {"mark":{"type":"text","text":"Zn","font":"Liberation Serif","align":"left","baseline":"alphabetic","dx":4,"dy":-4,"fontSize":15,"color":"#231f20"},"encoding":{"x":{"datum":1.107,"type":"quantitative","axis":null},"y":{"datum":0,"type":"quantitative","axis":null}}},
  {"mark":{"type":"text","text":"1-x","font":"Liberation Serif","align":"left","baseline":"alphabetic","dx":20.7,"dy":0,"fontSize":9,"color":"#231f20"},"encoding":{"x":{"datum":1.107,"type":"quantitative","axis":null},"y":{"datum":0,"type":"quantitative","axis":null}}},
  {"mark":{"type":"text","text":"Cr","font":"Liberation Serif","align":"left","baseline":"alphabetic","dx":32.7,"dy":-4,"fontSize":15,"color":"#231f20"},"encoding":{"x":{"datum":1.107,"type":"quantitative","axis":null},"y":{"datum":0,"type":"quantitative","axis":null}}},
  {"mark":{"type":"text","text":"x","font":"Liberation Serif","align":"left","baseline":"alphabetic","dx":47.7,"dy":0,"fontSize":9,"color":"#231f20"},"encoding":{"x":{"datum":1.107,"type":"quantitative","axis":null},"y":{"datum":0,"type":"quantitative","axis":null}}},
  {"mark":{"type":"text","text":"Se","font":"Liberation Serif","align":"left","baseline":"alphabetic","dx":52.2,"dy":-4,"fontSize":15,"color":"#231f20"},"encoding":{"x":{"datum":1.107,"type":"quantitative","axis":null},"y":{"datum":0,"type":"quantitative","axis":null}}}
 ],
 "resolve":{"axis":{"x":"independent","y":"independent"}}},
{"width":127,"height":115,"data":{"name":"MnS"},
 "layer":[
  {"mark":{"type":"line","color":"black","strokeWidth":1},"encoding":{"x":{"field":"d","type":"quantitative","scale":{"domain":[0.6,2.0],"nice":false,"zero":false},"axis":{"orient":"bottom","ticks":false,"labels":false,"domain":true,"title":null}},"y":{"field":"E","type":"quantitative","scale":{"domain":[0,100],"nice":false,"zero":false},"axis":{"orient":"left","ticks":false,"labels":false,"domain":true,"title":null}},"detail":{"field":"state","type":"nominal"}}},
  {"mark":{"type":"point","shape":"circle","filled":true,"size":55,"stroke":"black","strokeWidth":1,"opacity":1},"encoding":{"x":{"field":"d","type":"quantitative","axis":null},"y":{"field":"E","type":"quantitative","axis":null},"fill":{"field":"state","type":"nominal","legend":null}}},
  {"mark":{"type":"rect","fill":"white","stroke":"#555555","strokeWidth":1},"encoding":{"x":{"datum":1.115,"type":"quantitative","axis":null},"x2":{"datum":2.1},"y":{"datum":21.7,"type":"quantitative","axis":null},"y2":{"datum":-1}}},
  {"mark":{"type":"text","text":"Zn","font":"Liberation Serif","align":"left","baseline":"alphabetic","dx":4,"dy":-4,"fontSize":15,"color":"#231f20"},"encoding":{"x":{"datum":1.115,"type":"quantitative","axis":null},"y":{"datum":0,"type":"quantitative","axis":null}}},
  {"mark":{"type":"text","text":"1-x","font":"Liberation Serif","align":"left","baseline":"alphabetic","dx":20.7,"dy":0,"fontSize":9,"color":"#231f20"},"encoding":{"x":{"datum":1.115,"type":"quantitative","axis":null},"y":{"datum":0,"type":"quantitative","axis":null}}},
  {"mark":{"type":"text","text":"Mn","font":"Liberation Serif","align":"left","baseline":"alphabetic","dx":32.7,"dy":-4,"fontSize":15,"color":"#231f20"},"encoding":{"x":{"datum":1.115,"type":"quantitative","axis":null},"y":{"datum":0,"type":"quantitative","axis":null}}},
  {"mark":{"type":"text","text":"x","font":"Liberation Serif","align":"left","baseline":"alphabetic","dx":53.5,"dy":0,"fontSize":9,"color":"#231f20"},"encoding":{"x":{"datum":1.115,"type":"quantitative","axis":null},"y":{"datum":0,"type":"quantitative","axis":null}}},
  {"mark":{"type":"text","text":"S","font":"Liberation Serif","align":"left","baseline":"alphabetic","dx":58,"dy":-4,"fontSize":15,"color":"#231f20"},"encoding":{"x":{"datum":1.115,"type":"quantitative","axis":null},"y":{"datum":0,"type":"quantitative","axis":null}}}
 ],
 "resolve":{"axis":{"x":"independent","y":"independent"}}},
{"width":127,"height":106,"data":{"name":"MnSe"},
 "layer":[
  {"mark":{"type":"line","color":"black","strokeWidth":1},"encoding":{"x":{"field":"d","type":"quantitative","scale":{"domain":[0.6,2.0],"nice":false,"zero":false},"axis":{"orient":"bottom","ticks":false,"labels":false,"domain":true,"title":null}},"y":{"field":"E","type":"quantitative","scale":{"domain":[0,100],"nice":false,"zero":false},"axis":{"orient":"left","ticks":false,"labels":false,"domain":true,"title":null}},"detail":{"field":"state","type":"nominal"}}},
  {"mark":{"type":"point","shape":"circle","filled":true,"size":55,"stroke":"black","strokeWidth":1,"opacity":1},"encoding":{"x":{"field":"d","type":"quantitative","axis":null},"y":{"field":"E","type":"quantitative","axis":null},"fill":{"field":"state","type":"nominal","legend":null}}},
  {"mark":{"type":"rect","fill":"white","stroke":"#555555","strokeWidth":1},"encoding":{"x":{"datum":1.022,"type":"quantitative","axis":null},"x2":{"datum":2.1},"y":{"datum":21.0,"type":"quantitative","axis":null},"y2":{"datum":-1}}},
  {"mark":{"type":"text","text":"Zn","font":"Liberation Serif","align":"left","baseline":"alphabetic","dx":4,"dy":-4,"fontSize":15,"color":"#231f20"},"encoding":{"x":{"datum":1.022,"type":"quantitative","axis":null},"y":{"datum":0,"type":"quantitative","axis":null}}},
  {"mark":{"type":"text","text":"1-x","font":"Liberation Serif","align":"left","baseline":"alphabetic","dx":20.7,"dy":0,"fontSize":9,"color":"#231f20"},"encoding":{"x":{"datum":1.022,"type":"quantitative","axis":null},"y":{"datum":0,"type":"quantitative","axis":null}}},
  {"mark":{"type":"text","text":"Mn","font":"Liberation Serif","align":"left","baseline":"alphabetic","dx":32.7,"dy":-4,"fontSize":15,"color":"#231f20"},"encoding":{"x":{"datum":1.022,"type":"quantitative","axis":null},"y":{"datum":0,"type":"quantitative","axis":null}}},
  {"mark":{"type":"text","text":"x","font":"Liberation Serif","align":"left","baseline":"alphabetic","dx":53.5,"dy":0,"fontSize":9,"color":"#231f20"},"encoding":{"x":{"datum":1.022,"type":"quantitative","axis":null},"y":{"datum":0,"type":"quantitative","axis":null}}},
  {"mark":{"type":"text","text":"Se","font":"Liberation Serif","align":"left","baseline":"alphabetic","dx":58,"dy":-4,"fontSize":15,"color":"#231f20"},"encoding":{"x":{"datum":1.022,"type":"quantitative","axis":null},"y":{"datum":0,"type":"quantitative","axis":null}}}
 ],
 "resolve":{"axis":{"x":"independent","y":"independent"}}},
{"width":127,"height":104,"data":{"name":"FeS"},
 "layer":[
  {"mark":{"type":"line","color":"black","strokeWidth":1},"encoding":{"x":{"field":"d","type":"quantitative","scale":{"domain":[0.6,2.0],"nice":false,"zero":false},"axis":{"orient":"bottom","ticks":false,"labels":false,"domain":true,"title":null}},"y":{"field":"E","type":"quantitative","scale":{"domain":[0,100],"nice":false,"zero":false},"axis":{"orient":"left","ticks":false,"labels":false,"domain":true,"title":null}},"detail":{"field":"state","type":"nominal"}}},
  {"mark":{"type":"point","shape":"circle","filled":true,"size":55,"stroke":"black","strokeWidth":1,"opacity":1},"encoding":{"x":{"field":"d","type":"quantitative","axis":null},"y":{"field":"E","type":"quantitative","axis":null},"fill":{"field":"state","type":"nominal","legend":null}}},
  {"mark":{"type":"rect","fill":"white","stroke":"#555555","strokeWidth":1},"encoding":{"x":{"datum":1.184,"type":"quantitative","axis":null},"x2":{"datum":2.1},"y":{"datum":23.8,"type":"quantitative","axis":null},"y2":{"datum":-1}}},
  {"mark":{"type":"text","text":"Zn","font":"Liberation Serif","align":"left","baseline":"alphabetic","dx":4,"dy":-4,"fontSize":15,"color":"#231f20"},"encoding":{"x":{"datum":1.184,"type":"quantitative","axis":null},"y":{"datum":0,"type":"quantitative","axis":null}}},
  {"mark":{"type":"text","text":"1-x","font":"Liberation Serif","align":"left","baseline":"alphabetic","dx":20.7,"dy":0,"fontSize":9,"color":"#231f20"},"encoding":{"x":{"datum":1.184,"type":"quantitative","axis":null},"y":{"datum":0,"type":"quantitative","axis":null}}},
  {"mark":{"type":"text","text":"Fe","font":"Liberation Serif","align":"left","baseline":"alphabetic","dx":32.7,"dy":-4,"fontSize":15,"color":"#231f20"},"encoding":{"x":{"datum":1.184,"type":"quantitative","axis":null},"y":{"datum":0,"type":"quantitative","axis":null}}},
  {"mark":{"type":"text","text":"x","font":"Liberation Serif","align":"left","baseline":"alphabetic","dx":47.7,"dy":0,"fontSize":9,"color":"#231f20"},"encoding":{"x":{"datum":1.184,"type":"quantitative","axis":null},"y":{"datum":0,"type":"quantitative","axis":null}}},
  {"mark":{"type":"text","text":"S","font":"Liberation Serif","align":"left","baseline":"alphabetic","dx":52.2,"dy":-4,"fontSize":15,"color":"#231f20"},"encoding":{"x":{"datum":1.184,"type":"quantitative","axis":null},"y":{"datum":0,"type":"quantitative","axis":null}}}
 ],
 "resolve":{"axis":{"x":"independent","y":"independent"}}},
{"width":127,"height":107,"data":{"name":"FeSe"},
 "layer":[
  {"mark":{"type":"line","color":"black","strokeWidth":1},"encoding":{"x":{"field":"d","type":"quantitative","scale":{"domain":[0.6,2.0],"nice":false,"zero":false},"axis":{"orient":"bottom","ticks":false,"labels":false,"domain":true,"title":null}},"y":{"field":"E","type":"quantitative","scale":{"domain":[0,100],"nice":false,"zero":false},"axis":{"orient":"left","ticks":false,"labels":false,"domain":true,"title":null}},"detail":{"field":"state","type":"nominal"}}},
  {"mark":{"type":"point","shape":"circle","filled":true,"size":55,"stroke":"black","strokeWidth":1,"opacity":1},"encoding":{"x":{"field":"d","type":"quantitative","axis":null},"y":{"field":"E","type":"quantitative","axis":null},"fill":{"field":"state","type":"nominal","legend":null}}},
  {"mark":{"type":"rect","fill":"white","stroke":"#555555","strokeWidth":1},"encoding":{"x":{"datum":1.096,"type":"quantitative","axis":null},"x2":{"datum":2.1},"y":{"datum":24.0,"type":"quantitative","axis":null},"y2":{"datum":-1}}},
  {"mark":{"type":"text","text":"Zn","font":"Liberation Serif","align":"left","baseline":"alphabetic","dx":4,"dy":-4,"fontSize":15,"color":"#231f20"},"encoding":{"x":{"datum":1.096,"type":"quantitative","axis":null},"y":{"datum":0,"type":"quantitative","axis":null}}},
  {"mark":{"type":"text","text":"1-x","font":"Liberation Serif","align":"left","baseline":"alphabetic","dx":20.7,"dy":0,"fontSize":9,"color":"#231f20"},"encoding":{"x":{"datum":1.096,"type":"quantitative","axis":null},"y":{"datum":0,"type":"quantitative","axis":null}}},
  {"mark":{"type":"text","text":"Fe","font":"Liberation Serif","align":"left","baseline":"alphabetic","dx":32.7,"dy":-4,"fontSize":15,"color":"#231f20"},"encoding":{"x":{"datum":1.096,"type":"quantitative","axis":null},"y":{"datum":0,"type":"quantitative","axis":null}}},
  {"mark":{"type":"text","text":"x","font":"Liberation Serif","align":"left","baseline":"alphabetic","dx":47.7,"dy":0,"fontSize":9,"color":"#231f20"},"encoding":{"x":{"datum":1.096,"type":"quantitative","axis":null},"y":{"datum":0,"type":"quantitative","axis":null}}},
  {"mark":{"type":"text","text":"Se","font":"Liberation Serif","align":"left","baseline":"alphabetic","dx":52.2,"dy":-4,"fontSize":15,"color":"#231f20"},"encoding":{"x":{"datum":1.096,"type":"quantitative","axis":null},"y":{"datum":0,"type":"quantitative","axis":null}}}
 ],
 "resolve":{"axis":{"x":"independent","y":"independent"}}},
{"width":127,"height":107,"data":{"name":"CoS"},
 "layer":[
  {"mark":{"type":"line","color":"black","strokeWidth":1},"encoding":{"x":{"field":"d","type":"quantitative","scale":{"domain":[0.6,2.0],"nice":false,"zero":false},"axis":{"orient":"bottom","ticks":false,"labels":false,"domain":true,"title":null}},"y":{"field":"E","type":"quantitative","scale":{"domain":[0,100],"nice":false,"zero":false},"axis":{"orient":"left","ticks":false,"labels":false,"domain":true,"title":null}},"detail":{"field":"state","type":"nominal"}}},
  {"mark":{"type":"point","shape":"circle","filled":true,"size":55,"stroke":"black","strokeWidth":1,"opacity":1},"encoding":{"x":{"field":"d","type":"quantitative","axis":null},"y":{"field":"E","type":"quantitative","axis":null},"fill":{"field":"state","type":"nominal","legend":null}}},
  {"mark":{"type":"rect","fill":"white","stroke":"#555555","strokeWidth":1},"encoding":{"x":{"datum":1.159,"type":"quantitative","axis":null},"x2":{"datum":2.1},"y":{"datum":23.6,"type":"quantitative","axis":null},"y2":{"datum":-1}}},
  {"mark":{"type":"text","text":"Zn","font":"Liberation Serif","align":"left","baseline":"alphabetic","dx":4,"dy":-4,"fontSize":15,"color":"#231f20"},"encoding":{"x":{"datum":1.159,"type":"quantitative","axis":null},"y":{"datum":0,"type":"quantitative","axis":null}}},
  {"mark":{"type":"text","text":"1-x","font":"Liberation Serif","align":"left","baseline":"alphabetic","dx":20.7,"dy":0,"fontSize":9,"color":"#231f20"},"encoding":{"x":{"datum":1.159,"type":"quantitative","axis":null},"y":{"datum":0,"type":"quantitative","axis":null}}},
  {"mark":{"type":"text","text":"Co","font":"Liberation Serif","align":"left","baseline":"alphabetic","dx":32.7,"dy":-4,"fontSize":15,"color":"#231f20"},"encoding":{"x":{"datum":1.159,"type":"quantitative","axis":null},"y":{"datum":0,"type":"quantitative","axis":null}}},
  {"mark":{"type":"text","text":"x","font":"Liberation Serif","align":"left","baseline":"alphabetic","dx":50.2,"dy":0,"fontSize":9,"color":"#231f20"},"encoding":{"x":{"datum":1.159,"type":"quantitative","axis":null},"y":{"datum":0,"type":"quantitative","axis":null}}},
  {"mark":{"type":"text","text":"S","font":"Liberation Serif","align":"left","baseline":"alphabetic","dx":54.7,"dy":-4,"fontSize":15,"color":"#231f20"},"encoding":{"x":{"datum":1.159,"type":"quantitative","axis":null},"y":{"datum":0,"type":"quantitative","axis":null}}}
 ],
 "resolve":{"axis":{"x":"independent","y":"independent"}}},
{"width":127,"height":105,"data":{"name":"CoSe"},
 "layer":[
  {"mark":{"type":"line","color":"black","strokeWidth":1},"encoding":{"x":{"field":"d","type":"quantitative","scale":{"domain":[0.6,2.0],"nice":false,"zero":false},"axis":{"orient":"bottom","ticks":false,"labels":false,"domain":true,"title":null}},"y":{"field":"E","type":"quantitative","scale":{"domain":[0,100],"nice":false,"zero":false},"axis":{"orient":"left","ticks":false,"labels":false,"domain":true,"title":null}},"detail":{"field":"state","type":"nominal"}}},
  {"mark":{"type":"point","shape":"circle","filled":true,"size":55,"stroke":"black","strokeWidth":1,"opacity":1},"encoding":{"x":{"field":"d","type":"quantitative","axis":null},"y":{"field":"E","type":"quantitative","axis":null},"fill":{"field":"state","type":"nominal","legend":null}}},
  {"mark":{"type":"rect","fill":"white","stroke":"#555555","strokeWidth":1},"encoding":{"x":{"datum":1.066,"type":"quantitative","axis":null},"x2":{"datum":2.1},"y":{"datum":25.0,"type":"quantitative","axis":null},"y2":{"datum":-1}}},
  {"mark":{"type":"text","text":"Zn","font":"Liberation Serif","align":"left","baseline":"alphabetic","dx":4,"dy":-4,"fontSize":15,"color":"#231f20"},"encoding":{"x":{"datum":1.066,"type":"quantitative","axis":null},"y":{"datum":0,"type":"quantitative","axis":null}}},
  {"mark":{"type":"text","text":"1-x","font":"Liberation Serif","align":"left","baseline":"alphabetic","dx":20.7,"dy":0,"fontSize":9,"color":"#231f20"},"encoding":{"x":{"datum":1.066,"type":"quantitative","axis":null},"y":{"datum":0,"type":"quantitative","axis":null}}},
  {"mark":{"type":"text","text":"Co","font":"Liberation Serif","align":"left","baseline":"alphabetic","dx":32.7,"dy":-4,"fontSize":15,"color":"#231f20"},"encoding":{"x":{"datum":1.066,"type":"quantitative","axis":null},"y":{"datum":0,"type":"quantitative","axis":null}}},
  {"mark":{"type":"text","text":"x","font":"Liberation Serif","align":"left","baseline":"alphabetic","dx":50.2,"dy":0,"fontSize":9,"color":"#231f20"},"encoding":{"x":{"datum":1.066,"type":"quantitative","axis":null},"y":{"datum":0,"type":"quantitative","axis":null}}},
  {"mark":{"type":"text","text":"Se","font":"Liberation Serif","align":"left","baseline":"alphabetic","dx":54.7,"dy":-4,"fontSize":15,"color":"#231f20"},"encoding":{"x":{"datum":1.066,"type":"quantitative","axis":null},"y":{"datum":0,"type":"quantitative","axis":null}}}
 ],
 "resolve":{"axis":{"x":"independent","y":"independent"}}},
{"width":127,"height":103,"data":{"name":"NiS"},
 "layer":[
  {"mark":{"type":"line","color":"black","strokeWidth":1},"encoding":{"x":{"field":"d","type":"quantitative","scale":{"domain":[0.6,2.0],"nice":false,"zero":false},"axis":{"orient":"bottom","ticks":false,"labels":false,"domain":true,"title":null}},"y":{"field":"E","type":"quantitative","scale":{"domain":[0,100],"nice":false,"zero":false},"axis":{"orient":"left","ticks":false,"labels":false,"domain":true,"title":null}},"detail":{"field":"state","type":"nominal"}}},
  {"mark":{"type":"point","shape":"circle","filled":true,"size":55,"stroke":"black","strokeWidth":1,"opacity":1},"encoding":{"x":{"field":"d","type":"quantitative","axis":null},"y":{"field":"E","type":"quantitative","axis":null},"fill":{"field":"state","type":"nominal","legend":null}}},
  {"mark":{"type":"rect","fill":"white","stroke":"#555555","strokeWidth":1},"encoding":{"x":{"datum":1.188,"type":"quantitative","axis":null},"x2":{"datum":2.1},"y":{"datum":23.3,"type":"quantitative","axis":null},"y2":{"datum":-1}}},
  {"mark":{"type":"text","text":"Zn","font":"Liberation Serif","align":"left","baseline":"alphabetic","dx":4,"dy":-4,"fontSize":15,"color":"#231f20"},"encoding":{"x":{"datum":1.188,"type":"quantitative","axis":null},"y":{"datum":0,"type":"quantitative","axis":null}}},
  {"mark":{"type":"text","text":"1-x","font":"Liberation Serif","align":"left","baseline":"alphabetic","dx":20.7,"dy":0,"fontSize":9,"color":"#231f20"},"encoding":{"x":{"datum":1.188,"type":"quantitative","axis":null},"y":{"datum":0,"type":"quantitative","axis":null}}},
  {"mark":{"type":"text","text":"Ni","font":"Liberation Serif","align":"left","baseline":"alphabetic","dx":32.7,"dy":-4,"fontSize":15,"color":"#231f20"},"encoding":{"x":{"datum":1.188,"type":"quantitative","axis":null},"y":{"datum":0,"type":"quantitative","axis":null}}},
  {"mark":{"type":"text","text":"x","font":"Liberation Serif","align":"left","baseline":"alphabetic","dx":47.7,"dy":0,"fontSize":9,"color":"#231f20"},"encoding":{"x":{"datum":1.188,"type":"quantitative","axis":null},"y":{"datum":0,"type":"quantitative","axis":null}}},
  {"mark":{"type":"text","text":"S","font":"Liberation Serif","align":"left","baseline":"alphabetic","dx":52.2,"dy":-4,"fontSize":15,"color":"#231f20"},"encoding":{"x":{"datum":1.188,"type":"quantitative","axis":null},"y":{"datum":0,"type":"quantitative","axis":null}}}
 ],
 "resolve":{"axis":{"x":"independent","y":"independent"}}},
{"width":127,"height":109,"data":{"name":"NiSe"},
 "layer":[
  {"mark":{"type":"line","color":"black","strokeWidth":1},"encoding":{"x":{"field":"d","type":"quantitative","scale":{"domain":[0.6,2.0],"nice":false,"zero":false},"axis":{"orient":"bottom","ticks":false,"labels":false,"domain":true,"title":null}},"y":{"field":"E","type":"quantitative","scale":{"domain":[0,100],"nice":false,"zero":false},"axis":{"orient":"left","ticks":false,"labels":false,"domain":true,"title":null}},"detail":{"field":"state","type":"nominal"}}},
  {"mark":{"type":"point","shape":"circle","filled":true,"size":55,"stroke":"black","strokeWidth":1,"opacity":1},"encoding":{"x":{"field":"d","type":"quantitative","axis":null},"y":{"field":"E","type":"quantitative","axis":null},"fill":{"field":"state","type":"nominal","legend":null}}},
  {"mark":{"type":"rect","fill":"white","stroke":"#555555","strokeWidth":1},"encoding":{"x":{"datum":1.096,"type":"quantitative","axis":null},"x2":{"datum":2.1},"y":{"datum":15.9,"type":"quantitative","axis":null},"y2":{"datum":-1}}},
  {"mark":{"type":"text","text":"Zn","font":"Liberation Serif","align":"left","baseline":"alphabetic","dx":4,"dy":-4,"fontSize":15,"color":"#231f20"},"encoding":{"x":{"datum":1.096,"type":"quantitative","axis":null},"y":{"datum":0,"type":"quantitative","axis":null}}},
  {"mark":{"type":"text","text":"1-x","font":"Liberation Serif","align":"left","baseline":"alphabetic","dx":20.7,"dy":0,"fontSize":9,"color":"#231f20"},"encoding":{"x":{"datum":1.096,"type":"quantitative","axis":null},"y":{"datum":0,"type":"quantitative","axis":null}}},
  {"mark":{"type":"text","text":"Ni","font":"Liberation Serif","align":"left","baseline":"alphabetic","dx":32.7,"dy":-4,"fontSize":15,"color":"#231f20"},"encoding":{"x":{"datum":1.096,"type":"quantitative","axis":null},"y":{"datum":0,"type":"quantitative","axis":null}}},
  {"mark":{"type":"text","text":"x","font":"Liberation Serif","align":"left","baseline":"alphabetic","dx":47.7,"dy":0,"fontSize":9,"color":"#231f20"},"encoding":{"x":{"datum":1.096,"type":"quantitative","axis":null},"y":{"datum":0,"type":"quantitative","axis":null}}},
  {"mark":{"type":"text","text":"Se","font":"Liberation Serif","align":"left","baseline":"alphabetic","dx":52.2,"dy":-4,"fontSize":15,"color":"#231f20"},"encoding":{"x":{"datum":1.096,"type":"quantitative","axis":null},"y":{"datum":0,"type":"quantitative","axis":null}}}
 ],
 "resolve":{"axis":{"x":"independent","y":"independent"}}}
], "spacing": 0, "bounds": "flush"}
]
}
